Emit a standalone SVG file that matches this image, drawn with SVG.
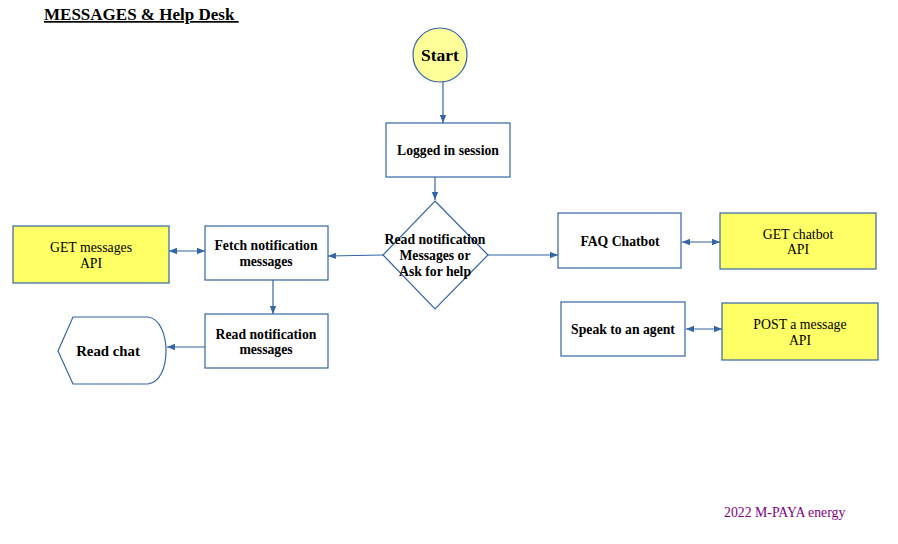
<svg xmlns="http://www.w3.org/2000/svg" width="898" height="544" viewBox="0 0 898 544">
<defs>
<marker id="ah" viewBox="0 0 10 10" refX="10" refY="5" markerWidth="8" markerHeight="8" markerUnits="userSpaceOnUse" orient="auto-start-reverse">
<path d="M0,1 L10,5 L0,9 z" fill="#3465a4"/>
</marker>
<style>
.box{fill:#fff;stroke:#3465a4;stroke-width:1.2}
.api{fill:#ffff66;stroke:#3465a4;stroke-width:1.2}
.b{font-family:"Liberation Serif",serif;font-weight:bold;font-size:13.7px;fill:#000;text-anchor:middle}
.n{font-family:"Liberation Serif",serif;font-size:13.8px;fill:#000;text-anchor:middle}
.c{fill:none;stroke:#3465a4;stroke-width:1.2}
</style>
</defs>
<rect width="898" height="544" fill="#fff"/>
<text x="44" y="20" font-family="Liberation Serif,serif" font-weight="bold" font-size="17" text-decoration="underline" xml:space="preserve">MESSAGES &amp; Help Desk </text>

<g id="start">
<circle cx="440" cy="55" r="27" fill="#ffff99" stroke="#3465a4" stroke-width="1.2"/>
<text class="b" x="440" y="61" style="font-size:17.5px">Start</text>
</g>
<g id="logged">
<rect class="box" x="386" y="123" width="124" height="54"/>
<text class="b" x="448" y="155">Logged in session</text>
</g>
<g id="decision">
<polygon class="box" points="435,201 488,255 435,309 383,255"/>
<text class="b" x="435" y="244">Read notification</text>
<text class="b" x="435" y="260">Messages or</text>
<text class="b" x="435" y="276">Ask for help</text>
</g>
<g id="fetch">
<rect class="box" x="205" y="226" width="123" height="54"/>
<text class="b" x="266" y="250">Fetch notification</text>
<text class="b" x="266" y="266">messages</text>
</g>
<g id="getmessages">
<rect class="api" x="13" y="226" width="156" height="57"/>
<text class="n" x="91" y="252">GET messages</text>
<text class="n" x="91" y="268">API</text>
</g>
<g id="readnotif">
<rect class="box" x="205" y="314" width="123" height="54"/>
<text class="b" x="266" y="339">Read notification</text>
<text class="b" x="266" y="354">messages</text>
</g>
<g id="readchat">
<path class="box" d="M58,351 L73,317 L148,317 C172,320 172,382 148,384 L73,384 Z"/>
<text class="b" x="108" y="356" style="font-size:14.8px">Read chat</text>
</g>
<g id="faq">
<rect class="box" x="558" y="213" width="123" height="55"/>
<text class="b" x="620" y="246">FAQ Chatbot</text>
</g>
<g id="getchatbot">
<rect class="api" x="720" y="213" width="156" height="56"/>
<text class="n" x="798" y="239">GET chatbot</text>
<text class="n" x="798" y="254">API</text>
</g>
<g id="agent">
<rect class="box" x="561" y="302" width="124" height="54"/>
<text class="b" x="623" y="334">Speak to an agent</text>
</g>
<g id="postmessage">
<rect class="api" x="722" y="303" width="156" height="57"/>
<text class="n" x="800" y="329">POST a message</text>
<text class="n" x="800" y="345">API</text>
</g>

<g id="connectors">
<line class="c" x1="443" y1="82" x2="443" y2="123" marker-end="url(#ah)"/>
<line class="c" x1="435" y1="177" x2="435" y2="200" marker-end="url(#ah)"/>
<line class="c" x1="383" y1="255" x2="328" y2="256" marker-end="url(#ah)"/>
<line class="c" x1="169" y1="251" x2="205" y2="251" marker-start="url(#ah)" marker-end="url(#ah)"/>
<line class="c" x1="273" y1="280" x2="273" y2="314" marker-end="url(#ah)"/>
<line class="c" x1="205" y1="347" x2="167" y2="347" marker-end="url(#ah)"/>
<line class="c" x1="488" y1="255" x2="558" y2="255" marker-end="url(#ah)"/>
<line class="c" x1="682" y1="242" x2="720" y2="242" marker-start="url(#ah)" marker-end="url(#ah)"/>
<line class="c" x1="686" y1="329" x2="722" y2="329" marker-start="url(#ah)" marker-end="url(#ah)"/>
</g>

<text x="724" y="517" font-family="Liberation Serif,serif" font-size="13.8" fill="#800080">2022 M-PAYA energy</text>
</svg>
